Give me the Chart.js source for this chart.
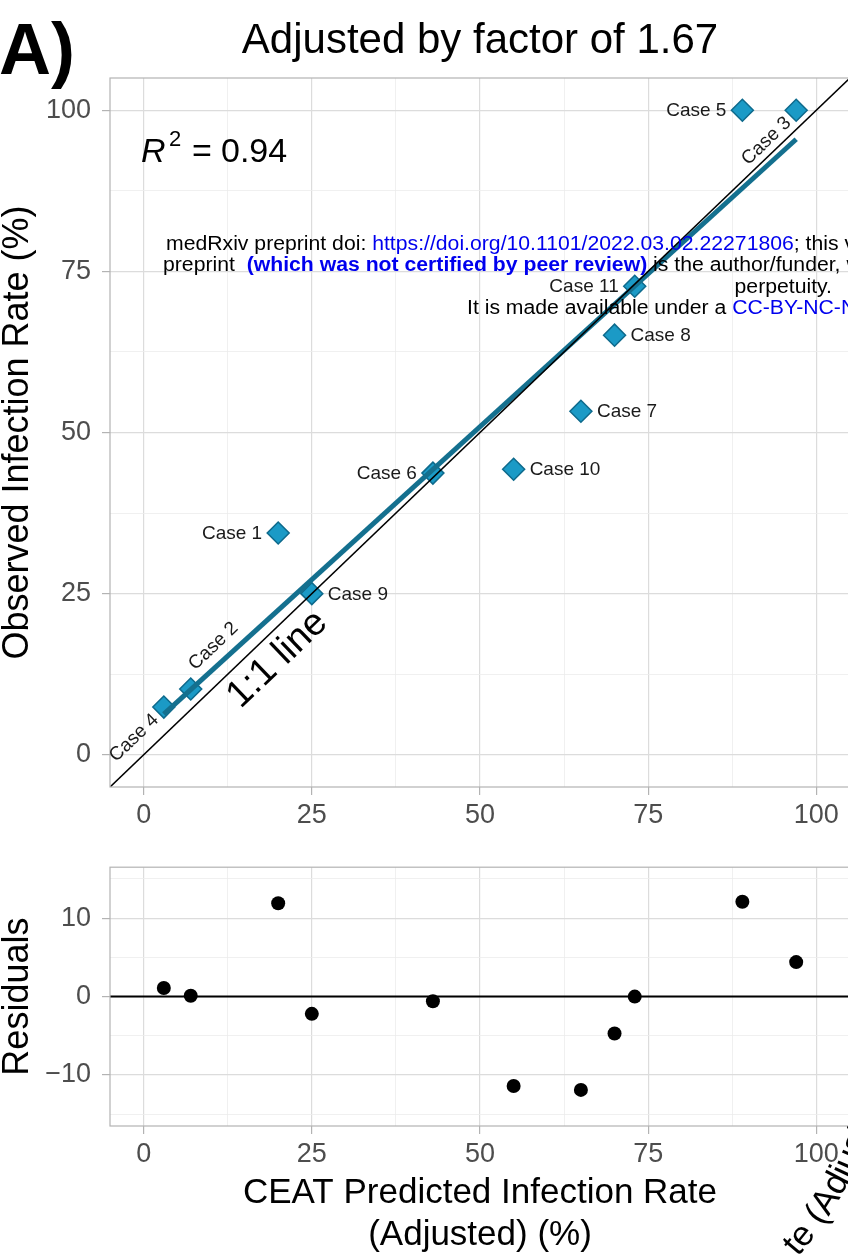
<!DOCTYPE html>
<html><head><meta charset="utf-8">
<script src="https://cdn.jsdelivr.net/npm/chart.js@4.4.1/dist/chart.umd.min.js"></script>
<style>
html,body{margin:0;padding:0;background:#fff;overflow:hidden;width:848px;height:1258px;}
#wrap{position:relative;width:852px;height:1258px;overflow:hidden;}
canvas{position:absolute;left:0;}
</style></head><body>
<div id="wrap">
<canvas id="top" width="852" height="840" style="top:0"></canvas>
<canvas id="bot" width="852" height="418" style="top:840px"></canvas>
</div>
<script>
// ---- data ----
const caseNames = ['Case 4','Case 2','Case 1','Case 9','Case 6','Case 10','Case 7','Case 8','Case 11','Case 5','Case 3'];
const predicted = [3, 7, 20, 25, 43, 55, 65, 70, 73, 89, 97];
const observed  = [7.4, 10.2, 34.4, 25, 43.7, 44.3, 53.3, 65.1, 72.7, 100, 100];
const residuals = [1.1, 0.1, 11.9, -2.2, -0.6, -11.4, -11.9, -4.7, 0, 12.1, 4.4];
const fitX = [3, 97];
const fitY = [6.3, 95.5];
const identityX = [-5, 105];
const identityY = [-5, 105];
const zeroX = [-5, 105];
const zeroY = [0, 0];
const xTicks = [0, 25, 50, 75, 100];
const xMinor = [12.5, 37.5, 62.5, 87.5];
const yTicks = [0, 25, 50, 75, 100];
const yMinor = [12.5, 37.5, 62.5, 87.5];
const resTicks = [-10, 0, 10];
const resMinor = [-15, -5, 5, 15];
const r2Text = '0.94';
const titleText = 'Adjusted by factor of 1.67';

const FAM = "'Liberation Sans', Arial, Helvetica, sans-serif";

function pts(xs, ys){ return xs.map((x,i)=>({x, y: ys[i]})); }
function tickSetter(major, minor){
  return s => { s.ticks = [...major, ...minor].sort((a,b)=>a-b).map(v=>({value:v})); };
}
function gridOpts(major){
  return {
    color: c => (c.tick && major.includes(c.tick.value)) ? '#dcdcdc' : '#ececec',
    lineWidth: c => (c.tick && major.includes(c.tick.value)) ? 1.2 : 0.8,
    tickColor: c => (c.tick && major.includes(c.tick.value)) ? '#b3b3b3' : 'rgba(0,0,0,0)',
    tickLength: 8,
    tickWidth: 1.2
  };
}
function fmt(major){ return v => major.includes(v) ? String(v).replace('-', '\u2212') : ''; }

const panelBorder = {
  id: 'panelBorder',
  afterDatasetsDraw(chart){
    const {ctx, chartArea:a} = chart;
    ctx.save();
    ctx.strokeStyle = '#b3b3b3';
    ctx.lineWidth = 1.2;
    ctx.strokeRect(a.left, a.top, a.right - a.left, a.bottom - a.top);
    ctx.restore();
  }
};

const placement = {'Case 4':'dr','Case 3':'dr','Case 2':'dl','Case 1':'l','Case 6':'l','Case 11':'l','Case 5':'l','Case 9':'r','Case 10':'r','Case 7':'r','Case 8':'r'};

const topAnnot = {
  id: 'topAnnot',
  afterDatasetsDraw(chart){
    const {ctx, scales:{x, y}, chartArea:a} = chart;
    const ang = Math.atan2(y.getPixelForValue(0) - y.getPixelForValue(100), x.getPixelForValue(100) - x.getPixelForValue(0));
    const meta = chart.getDatasetMeta(2);
    ctx.save();
    ctx.fillStyle = '#1a1a1a';
    ctx.font = '19px ' + FAM;
    ctx.textBaseline = 'middle';
    meta.data.forEach((el, i) => {
      const name = caseNames[i];
      const p = placement[name];
      const px = el.x, py = el.y;
      if (p === 'l') { ctx.textAlign = 'right'; ctx.fillText(name, px - 16, py + 1); }
      else if (p === 'r') { ctx.textAlign = 'left'; ctx.fillText(name, px + 16, py + 1); }
      else {
        ctx.save();
        if (p === 'dr') { ctx.translate(px - 8, py + 10); ctx.rotate(-ang); ctx.textAlign = 'right'; }
        else { ctx.translate(px + 1, py - 22); ctx.rotate(-ang); ctx.textAlign = 'left'; }
        ctx.fillText(name, 0, 0);
        ctx.restore();
      }
    });
    // 1:1 line label
    ctx.save();
    ctx.translate(x.getPixelForValue(19.9), y.getPixelForValue(14.8));
    ctx.rotate(-ang);
    ctx.textAlign = 'center';
    ctx.fillStyle = '#000';
    ctx.font = '38px ' + FAM;
    ctx.fillText('1:1 line', 0, 0);
    ctx.restore();
    // R^2
    ctx.fillStyle = '#000';
    ctx.textBaseline = 'alphabetic';
    ctx.textAlign = 'left';
    ctx.font = 'italic 34px ' + FAM;
    ctx.fillText('R', a.left + 31, 162);
    ctx.font = '22px ' + FAM;
    ctx.fillText('2', a.left + 59, 146);
    ctx.font = '34px ' + FAM;
    ctx.fillText('=', a.left + 82, 162);
    ctx.fillText(r2Text, a.left + 111, 162);
    ctx.restore();
  },
  afterDraw(chart){
    const ctx = chart.ctx;
    ctx.save();
    ctx.fillStyle = '#000';
    ctx.textBaseline = 'alphabetic';
    ctx.font = 'bold 72px ' + FAM;
    ctx.textAlign = 'left';
    ctx.fillText('A)', -1, 74);
    ctx.font = '42px ' + FAM;
    ctx.textAlign = 'center';
    const a = chart.chartArea;
    ctx.fillText(titleText, (a.left + a.right) / 2, 53);
    // medRxiv watermark
    const SX = 1.06;
    const BLUE = '#0000ee';
    function segs(x0, yy, list){
      ctx.save(); ctx.translate(x0, yy); ctx.scale(SX, 1);
      ctx.textAlign = 'left'; ctx.textBaseline = 'middle';
      let cx = 0;
      for (const s of list){
        ctx.font = (s.b ? 'bold ' : '') + '20px ' + FAM;
        ctx.fillStyle = s.c;
        ctx.fillText(s.t, cx, 0);
        cx += ctx.measureText(s.t).width;
      }
      ctx.restore();
    }
    segs(166, 244, [{t:'medRxiv preprint doi: ', c:'#000'}, {t:'https://doi.org/10.1101/2022.03.02.22271806', c:BLUE}, {t:'; this version posted March 4, 2022.', c:'#000'}]);
    segs(163, 265, [{t:'preprint  ', c:'#000'}, {t:'(which was not certified by peer review)', c:BLUE, b:true}, {t:' is the author/funder, who has granted', c:'#000'}]);
    ctx.save();
    ctx.font = '20px ' + FAM;
    const wp = ctx.measureText('perpetuity.').width * SX;
    ctx.restore();
    segs(832 - wp, 287, [{t:'perpetuity.', c:'#000'}]);
    segs(467, 308, [{t:'It is made available under a ', c:'#000'}, {t:'CC-BY-NC-ND 4.0 International license', c:BLUE}]);
    ctx.restore();
  }
};

const botAnnot = {
  id: 'botAnnot',
  afterDraw(chart){
    const ctx = chart.ctx;
    ctx.save();
    ctx.fillStyle = '#000';
    ctx.font = '35px ' + FAM;
    ctx.textAlign = 'left';
    ctx.textBaseline = 'alphabetic';
    // text running along a gentle arc, partially visible in the corner
    const txt = 'te (Adjusted) (%)';
    let px = 798, py = 417, th = 50 * Math.PI / 180;
    const kappa = 0.16 * Math.PI / 180;
    for (const ch of txt){
      const w = ctx.measureText(ch).width;
      ctx.save();
      ctx.translate(px, py);
      ctx.rotate(-th);
      ctx.fillText(ch, 0, 0);
      ctx.restore();
      px += w * Math.cos(th); py -= w * Math.sin(th);
      th += w * kappa;
    }
    ctx.restore();
  }
};

const tickFont = {family: FAM, size: 27};

new Chart(document.getElementById('top'), {
  type: 'scatter',
  data: { datasets: [
    { type:'line', data: pts(identityX, identityY), borderColor:'#000', borderWidth:1.6, pointRadius:0, order:0, fill:false },
    { type:'line', data: pts(fitX, fitY), borderColor:'#14708f', borderWidth:5, pointRadius:0, order:1, fill:false, borderCapStyle:'butt' },
    { data: pts(predicted, observed), pointStyle:'rectRot', pointRadius:11, backgroundColor:'#1b9ac6', borderColor:'#0e6a8c', borderWidth:1.5, order:2, clip:false }
  ]},
  options: {
    responsive:false, animation:false, events:[],
    plugins:{ legend:{display:false}, tooltip:{enabled:false} },
    layout:{ autoPadding:false, padding:{ top:78, right:2, left:0, bottom:0 } },
    scales:{
      x:{ type:'linear', min:-5, max:105,
          afterBuildTicks: tickSetter(xTicks, xMinor),
          afterFit: s => { s.height = 53; },
          ticks:{ callback: fmt(xTicks), font: tickFont, color:'#4d4d4d', padding:4, maxRotation:0, autoSkip:false },
          grid: gridOpts(xTicks), border:{display:false} },
      y:{ type:'linear', min:-5, max:105,
          afterBuildTicks: tickSetter(yTicks, yMinor),
          afterFit: s => { s.width = 110; },
          ticks:{ callback: fmt(yTicks), font: tickFont, color:'#4d4d4d', padding:11, autoSkip:false },
          grid: gridOpts(yTicks), border:{display:false},
          title:{ display:true, text:'Observed Infection Rate (%)', color:'#000', font:{family:FAM, size:36, lineHeight:1}, padding:0 } }
    }
  },
  plugins:[panelBorder, topAnnot]
});

new Chart(document.getElementById('bot'), {
  type: 'scatter',
  data: { datasets: [
    { type:'line', data: pts(zeroX, zeroY), borderColor:'#000', borderWidth:2, pointRadius:0, order:0, fill:false },
    { data: pts(predicted, residuals), pointStyle:'circle', pointRadius:7, backgroundColor:'#000', borderColor:'#000', borderWidth:0, order:1 }
  ]},
  options: {
    responsive:false, animation:false, events:[],
    plugins:{ legend:{display:false}, tooltip:{enabled:false} },
    layout:{ autoPadding:false, padding:{ top:26, right:2, left:0, bottom:0 } },
    scales:{
      x:{ type:'linear', min:-5, max:105,
          afterBuildTicks: tickSetter(xTicks, xMinor),
          afterFit: s => { s.height = 132; },
          ticks:{ callback: fmt(xTicks), font: tickFont, color:'#4d4d4d', padding:4, maxRotation:0, autoSkip:false },
          grid: gridOpts(xTicks), border:{display:false},
          title:{ display:true, text:['CEAT Predicted Infection Rate', '(Adjusted) (%)'], color:'#000', font:{family:FAM, size:35, lineHeight:1.2}, padding:{top:0, bottom:2} } },
      y:{ type:'linear', min:-16.5, max:16.5,
          afterBuildTicks: tickSetter(resTicks, resMinor),
          afterFit: s => { s.width = 110; },
          ticks:{ callback: fmt(resTicks), font: tickFont, color:'#4d4d4d', padding:11, autoSkip:false },
          grid: gridOpts(resTicks), border:{display:false},
          title:{ display:true, text:'Residuals', color:'#000', font:{family:FAM, size:36, lineHeight:1}, padding:0 } }
    }
  },
  plugins:[panelBorder, botAnnot]
});
</script>
</body></html>
